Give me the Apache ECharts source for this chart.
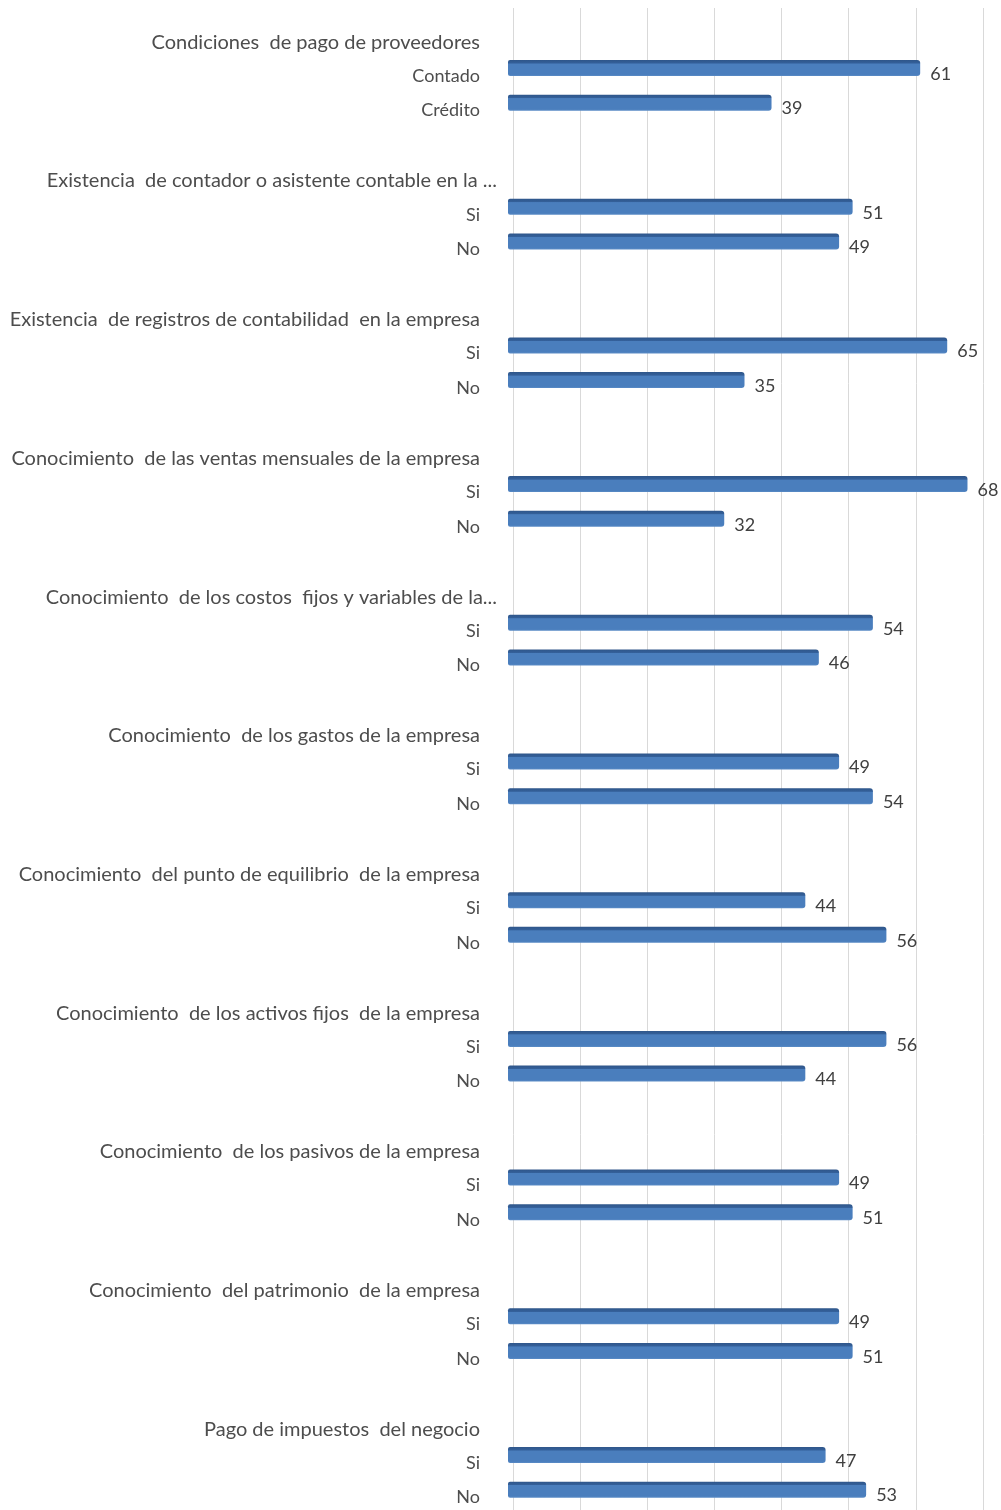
<!DOCTYPE html>
<html>
<head>
<meta charset="utf-8">
<script src="https://cdn.jsdelivr.net/npm/echarts@6/dist/echarts.min.js"></script>
<style>
html,body{margin:0;padding:0;background:#ffffff;}
#chart{width:1001px;height:1510px;}
</style>
</head>
<body>
<div id="chart"></div>
<script>
const groupTitles = [
  'Condiciones  de pago de proveedores',
  'Existencia  de contador o asistente contable en la ...',
  'Existencia  de registros de contabilidad  en la empresa',
  'Conocimiento  de las ventas mensuales de la empresa',
  'Conocimiento  de los costos  fijos y variables de la...',
  'Conocimiento  de los gastos de la empresa',
  'Conocimiento  del punto de equilibrio  de la empresa',
  'Conocimiento  de los activos fijos  de la empresa',
  'Conocimiento  de los pasivos de la empresa',
  'Conocimiento  del patrimonio  de la empresa',
  'Pago de impuestos  del negocio'
];
const firstOptionLabels  = ['Contado','Si','Si','Si','Si','Si','Si','Si','Si','Si','Si'];
const secondOptionLabels = ['Crédito','No','No','No','No','No','No','No','No','No','No'];
const firstOptionValues  = [61, 51, 65, 68, 54, 49, 44, 56, 49, 49, 47];
const secondOptionValues = [39, 49, 35, 32, 46, 54, 56, 44, 51, 51, 53];
const axisTicks = [0, 10, 20, 30, 40, 50, 60, 70];

// build category rows: title, option 1, option 2, spacer
const categories = [];
const values = [];
const isTitle = [];
groupTitles.forEach(function (t, i) {
  categories.push(t); values.push(null); isTitle.push(true);
  categories.push(firstOptionLabels[i]); values.push(firstOptionValues[i]); isTitle.push(false);
  categories.push(secondOptionLabels[i]); values.push(secondOptionValues[i]); isTitle.push(false);
  if (i < groupTitles.length - 1) { categories.push(' '.repeat(i + 1)); values.push(null); isTitle.push(false); }
});

const chart = echarts.init(document.getElementById('chart'));
const FONT = 'Lato';
chart.setOption({
  backgroundColor: '#ffffff',
  animation: false,
  grid: [
    { left: 513, right: 18, top: 8, bottom: 0 },
    { left: 508, right: 20, top: 16, bottom: 3 }
  ],
  xAxis: [
    {
      gridIndex: 0, type: 'value',
      min: axisTicks[0], max: axisTicks[axisTicks.length - 1], interval: axisTicks[1] - axisTicks[0],
      axisLabel: { show: false }, axisLine: { show: false }, axisTick: { show: false },
      splitLine: { show: true, lineStyle: { color: '#d9d9d9', width: 1 } }
    },
    {
      gridIndex: 1, type: 'value',
      min: axisTicks[0], max: axisTicks[axisTicks.length - 1], interval: axisTicks[1] - axisTicks[0],
      axisLabel: { show: false }, axisLine: { show: false }, axisTick: { show: false },
      splitLine: { show: false }
    }
  ],
  yAxis: [
    {
      gridIndex: 0, type: 'value', min: 0, max: 1, show: false,
      splitLine: { show: false }
    },
    {
      gridIndex: 1, type: 'category', inverse: true, data: categories,
      axisLine: { show: false }, axisTick: { show: false },
      splitLine: { show: false },
      axisLabel: {
        interval: 0, margin: 28, color: '#4d4d4d',
        fontFamily: FONT, verticalAlign: 'top',
        formatter: function (v, idx) {
          if (isTitle[idx]) {
            return /\.\.\.$/.test(v) ? '{e|' + v + '}' : '{h|' + v + '}';
          }
          return '{s|' + v + '}';
        },
        rich: {
          h: { fontFamily: FONT, fontSize: 20, lineHeight: 18, color: '#4d4d4d' },
          e: { fontFamily: FONT, fontSize: 20, lineHeight: 18, color: '#4d4d4d', padding: [0, -17, 0, 0] },
          s: { fontFamily: FONT, fontSize: 18, lineHeight: 16, color: '#4d4d4d' }
        }
      }
    }
  ],
  series: [
    {
      type: 'bar', xAxisIndex: 1, yAxisIndex: 1,
      data: values, barWidth: 16,
      itemStyle: {
        borderRadius: [2, 3, 3, 2],
        color: new echarts.graphic.LinearGradient(0, 0, 0, 1, [
          { offset: 0, color: '#2f568a' },
          { offset: 0.2, color: '#34609a' },
          { offset: 0.24, color: '#4a7ebd' },
          { offset: 0.9, color: '#4a7ebd' },
          { offset: 1, color: '#5b8cc6' }
        ])
      },
      label: {
        show: true, position: 'right', distance: 10, offset: [0, 6],
        color: '#404040', fontFamily: FONT, fontSize: 18
      }
    }
  ]
});
</script>
</body>
</html>
